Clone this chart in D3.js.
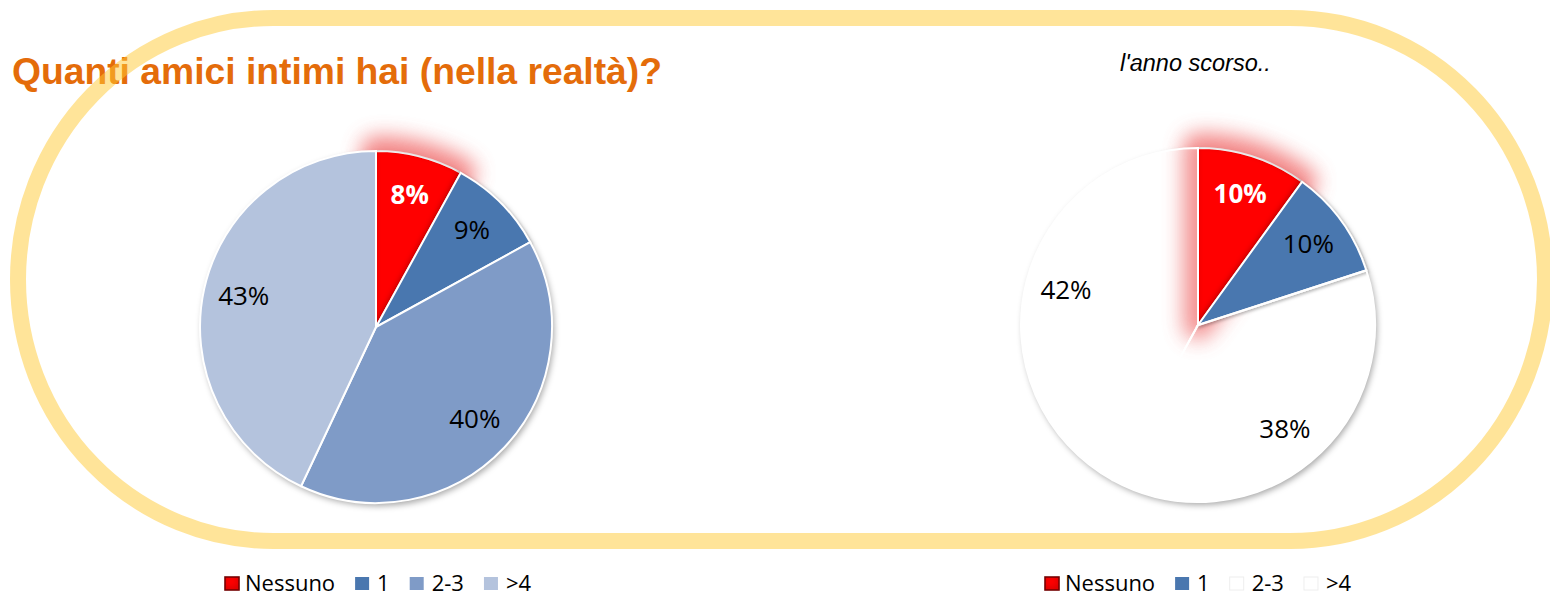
<!DOCTYPE html>
<html>
<head>
<meta charset="utf-8">
<script src="https://cdn.jsdelivr.net/npm/d3@7"></script>
<style>
  html, body { margin: 0; padding: 0; background: #fff; }
  svg { display: block; }
</style>
</head>
<body>
<div id="chart"></div>
<script>
var categories = ['Nessuno', '1', '2-3', '>4'];
var valuesNow = [8, 9, 40, 43];
var valuesLastYear = [10, 10, 38, 42];
var colorsNow = ['#ff0000', '#4a77af', '#7f9bc7', '#b4c3dd'];
var colorsLastYear = ['#ff0000', '#4a77af', 'rgba(255,255,255,0.1)', 'rgba(255,255,255,0.1)'];
var legendLastYear = ['#ff0000', '#4a77af', '#ffffff', '#ffffff'];

var W = 1550, H = 598;

var svg = d3.select('#chart').append('svg')
  .attr('width', W)
  .attr('height', H);

var defs = svg.append('defs');

var shadow = defs.append('filter').attr('id', 'shadow')
  .attr('x', '-20%').attr('y', '-20%').attr('width', '140%').attr('height', '140%');
shadow.append('feDropShadow')
  .attr('dx', 2).attr('dy', 3).attr('stdDeviation', 3)
  .attr('flood-color', '#000').attr('flood-opacity', 0.35);

var sliceShadow = defs.append('filter').attr('id', 'sliceShadow')
  .attr('x', '-20%').attr('y', '-20%').attr('width', '140%').attr('height', '140%');
sliceShadow.append('feDropShadow')
  .attr('dx', 1).attr('dy', 2).attr('stdDeviation', 1.5)
  .attr('flood-color', '#000').attr('flood-opacity', 0.3);

var glow = defs.append('filter').attr('id', 'glow')
  .attr('x', '-100%').attr('y', '-100%').attr('width', '300%').attr('height', '300%');
glow.append('feGaussianBlur').attr('stdDeviation', 10);

// inner shadow, gives the red slice its bevel look
var bevel = defs.append('filter').attr('id', 'bevel')
  .attr('x', '-20%').attr('y', '-20%').attr('width', '140%').attr('height', '140%');
bevel.append('feComponentTransfer').attr('in', 'SourceAlpha').attr('result', 'inv')
  .append('feFuncA').attr('type', 'table').attr('tableValues', '1 0');
bevel.append('feGaussianBlur').attr('in', 'inv').attr('stdDeviation', 3).attr('result', 'blur');
bevel.append('feOffset').attr('in', 'blur').attr('dx', -1).attr('dy', -2).attr('result', 'off');
bevel.append('feFlood').attr('flood-color', '#5a0000').attr('flood-opacity', 0.9).attr('result', 'col');
bevel.append('feComposite').attr('in', 'col').attr('in2', 'off').attr('operator', 'in').attr('result', 'sh');
bevel.append('feComposite').attr('in', 'sh').attr('in2', 'SourceAlpha').attr('operator', 'in').attr('result', 'inner');
var bm = bevel.append('feMerge');
bm.append('feMergeNode').attr('in', 'SourceGraphic');
bm.append('feMergeNode').attr('in', 'inner');

var pie = d3.pie().sort(null).value(function(d) { return d; });

function drawPie(values, colors, cx, cy, r) {
  var arcs = pie(values);
  var arc = d3.arc().innerRadius(0).outerRadius(r);
  var labelArc = d3.arc().innerRadius(r * 0.77).outerRadius(r * 0.77);

  var g = svg.append('g')
    .attr('transform', 'translate(' + cx + ',' + cy + ')');

  g.append('g')
    .attr('filter', 'url(#shadow)')
    .selectAll('path')
    .data(arcs)
    .join('path')
    .attr('d', arc)
    .attr('fill', '#fff');

  // soft red halo behind the first slice
  g.append('path')
    .datum(arcs[0])
    .attr('d', arc)
    .attr('fill', '#ee5555')
    .attr('stroke', '#ee5555')
    .attr('stroke-width', 30)
    .attr('stroke-linejoin', 'round')
    .attr('opacity', 0.7)
    .attr('filter', 'url(#glow)');

  g.selectAll('path.slice')
    .data(arcs)
    .join('path')
    .attr('class', 'slice')
    .attr('d', arc)
    .attr('fill', function(d, i) { return colors[i]; })
    .attr('stroke', '#fff')
    .attr('stroke-width', 2)
    .attr('filter', function(d, i) { return i === 0 ? 'url(#bevel)' : (i === 1 ? 'url(#sliceShadow)' : null); });

  g.selectAll('text.lbl')
    .data(arcs)
    .join('text')
    .attr('class', 'lbl')
    .attr('transform', function(d) { return 'translate(' + labelArc.centroid(d) + ')'; })
    .attr('text-anchor', 'middle')
    .attr('dy', '0.3em')
    .attr('font-family', '"Open Sans", sans-serif')
    .attr('font-size', 26)
    .attr('font-weight', function(d, i) { return i === 0 ? 'bold' : 'normal'; })
    .attr('fill', function(d, i) { return i === 0 ? '#fff' : '#000'; })
    .text(function(d) { return d.data + '%'; });
}

function drawLegend(x0, y, colors) {
  var g = svg.append('g').attr('transform', 'translate(' + x0 + ',' + y + ')');
  var x = 0;
  categories.forEach(function(c, i) {
    g.append('rect')
      .attr('x', x).attr('y', -14)
      .attr('width', 14).attr('height', 13)
      .attr('fill', colors[i])
      .attr('stroke', colors[i] === '#ffffff' ? '#eeeeee' : (i === 0 ? '#7a0000' : 'none'))
      .attr('stroke-width', i === 0 ? 1.5 : 1)
      .attr('filter', i === 0 ? 'url(#bevel)' : null);
    var t = g.append('text')
      .attr('x', x + (i === 0 ? 20 : 22))
      .attr('y', 0)
      .attr('font-family', '"Open Sans", sans-serif')
      .attr('font-size', 22)
      .attr('fill', '#000')
      .text(c);
    x += (i === 0 ? 20 : 22) + t.node().getComputedTextLength() + 20;
  });
}

svg.append('text')
  .attr('x', 12)
  .attr('y', 84)
  .attr('font-family', '"Liberation Sans", Arial, sans-serif')
  .attr('font-weight', 'bold')
  .attr('font-size', 36)
  .attr('textLength', 650)
  .attr('lengthAdjust', 'spacingAndGlyphs')
  .attr('fill', '#e46c0a')
  .text('Quanti amici intimi hai (nella realtà)?');

svg.append('text')
  .attr('x', 1120)
  .attr('y', 71)
  .attr('font-family', '"Liberation Sans", Arial, sans-serif')
  .attr('font-style', 'italic')
  .attr('font-size', 23.5)
  .attr('fill', '#000')
  .text("l'anno scorso..");

drawPie(valuesNow, colorsNow, 376, 327, 176);
drawPie(valuesLastYear, colorsLastYear, 1198, 325, 177);

drawLegend(225, 591, colorsNow);
drawLegend(1045, 591, legendLastYear);

// yellow rounded frame, semi transparent over the title
svg.append('rect')
  .attr('x', 18)
  .attr('y', 18)
  .attr('width', 1527)
  .attr('height', 523)
  .attr('rx', 255)
  .attr('ry', 261.5)
  .attr('fill', 'none')
  .attr('stroke', '#ffc933')
  .attr('stroke-opacity', 0.5)
  .attr('stroke-width', 16);
</script>
</body>
</html>
